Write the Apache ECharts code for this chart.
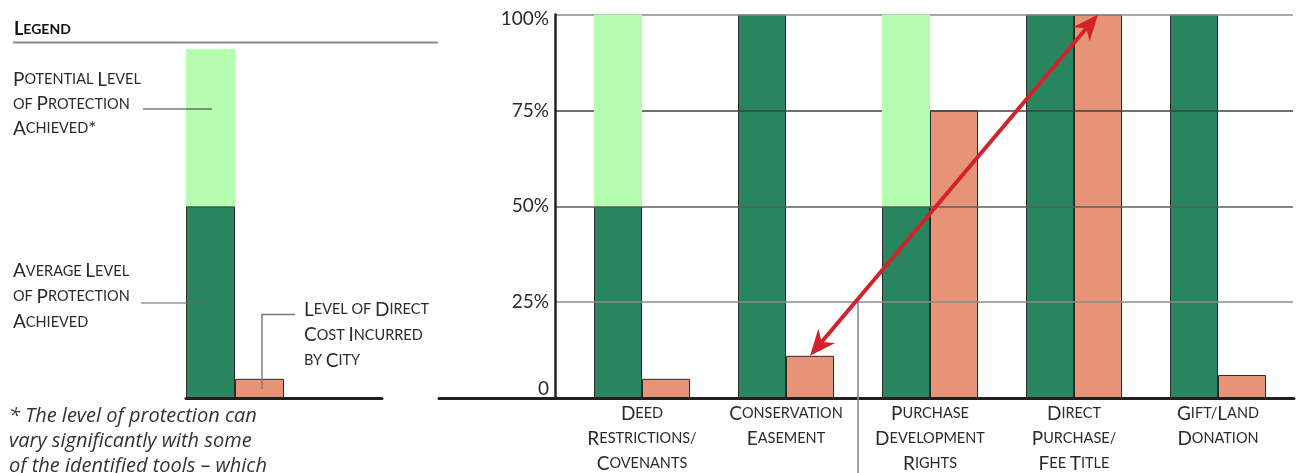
<!DOCTYPE html>
<html>
<head>
<meta charset="utf-8">
<title>Land Protection Tools</title>
<script src="https://cdn.jsdelivr.net/npm/echarts@6/dist/echarts.min.js"></script>
<style>
  html, body { margin: 0; padding: 0; background: #fff; }
  #chart { width: 1300px; height: 473px; }
</style>
</head>
<body>
<div id="chart"></div>
<script>
// Tools compared
const categories = [
  'Deed\nRestrictions/\nCovenants',
  'Conservation\nEasement',
  'Purchase\nDevelopment\nRights',
  'Direct\nPurchase/\nFee Title',
  'Gift/Land\nDonation'
];
// Average level of protection achieved (%)
const averageProtection = [50, 100, 50, 100, 100];
// Potential level of protection achieved (%)
const potentialProtection = [100, 100, 100, 100, 100];
// Level of direct cost incurred by city (%)
const directCost = [5, 11, 75, 100, 6];
// Y-axis tick labels, one per 25%
const yTickLabels = ['0', '25%', '50%', '75%', '100%'];

// Sample bars shown in the legend panel
const legendAverage = [50];
const legendPotential = [91];
const legendCost = [5];

// The arrow links the cost of these two tools
const arrowFrom = 1;
const arrowTo = 3;

const FONT = 'Lato';
const TEXT = '#2b2b2b';
const DARK_GREEN = '#29855f';
const LIGHT_GREEN = '#b4fdb1';
const SALMON = '#e69378';
const EDGE = '#2e2a2a';
const RED = '#d2232a';
const BAR_W = 48;

// Small-caps as rich text: capitals stay large, the rest is set in smaller capitals
function smallCaps(text, big, small) {
  const isBig = /[A-Z*]/;
  return text.split('\n').map(function (line) {
    let out = '';
    let i = 0;
    while (i < line.length) {
      const ch = line[i];
      if (isBig.test(ch)) {
        out += '{' + big + '|' + ch + '}';
        i++;
      } else {
        let j = i;
        while (j < line.length && !isBig.test(line[j])) j++;
        out += '{' + small + '|' + line.slice(i, j).toUpperCase() + '}';
        i = j;
      }
    }
    return out;
  }).join('\n');
}

const capsRich = function (lh) {
  return {
    B: { fontFamily: FONT, fontSize: 19, lineHeight: lh, fill: TEXT, color: TEXT },
    s: { fontFamily: FONT, fontSize: 14.5, lineHeight: lh, fill: TEXT, color: TEXT }
  };
};

const potentialStack = potentialProtection.map(function (v, i) { return v - averageProtection[i]; });
const legendPotentialStack = legendPotential.map(function (v, i) { return v - legendAverage[i]; });

const chart = echarts.init(document.getElementById('chart'), null, { renderer: 'canvas' });

const TOP = 14.5;
const BOTTOM = 75;

const option = {
  backgroundColor: '#ffffff',
  animation: false,
  grid: [
    // 0: value scale, gridlines and y axis
    { left: 555, right: 7, top: TOP, bottom: BOTTOM, outerBoundsMode: 'none', containLabel: false },
    // 1: tool bars
    { left: 570, right: 10, top: TOP, bottom: BOTTOM, outerBoundsMode: 'none', containLabel: false },
    // 2: long baseline under the main chart
    { left: 439, right: 6, top: TOP, bottom: BOTTOM, outerBoundsMode: 'none', containLabel: false },
    // 3: legend sample bars
    { left: 186, width: 196, top: TOP, bottom: BOTTOM, outerBoundsMode: 'none', containLabel: false }
  ],
  xAxis: [
    { gridIndex: 0, type: 'category', data: categories, show: false },
    {
      gridIndex: 1, type: 'category', data: categories,
      axisLine: { show: false }, axisTick: { show: false }, splitLine: { show: false },
      axisLabel: {
        interval: 0, margin: 3,
        formatter: function (v) { return smallCaps(v, 'B', 's'); },
        rich: capsRich(25)
      }
    },
    {
      gridIndex: 2, type: 'category', data: categories, z: 6,
      axisLine: { show: true, lineStyle: { color: '#231f20', width: 3 } },
      axisTick: { show: false }, axisLabel: { show: false }, splitLine: { show: false }
    },
    {
      gridIndex: 3, type: 'category', data: ['sample', 'blank'], z: 6,
      axisLine: { show: true, lineStyle: { color: '#231f20', width: 3 } },
      axisTick: { show: false }, axisLabel: { show: false }, splitLine: { show: false }
    }
  ],
  yAxis: [
    {
      gridIndex: 0, type: 'value', min: 0, max: 100, interval: 25, z: 3,
      axisLine: { show: true, lineStyle: { color: '#231f20', width: 2.5 } },
      axisTick: { show: false },
      splitLine: {
        show: true,
        lineStyle: { color: ['#231f20', '#8c8c8c', '#5e5e5e', '#404040', '#8c8c8c'], width: 1.6 }
      },
      axisLabel: {
        margin: 6,
        formatter: function (v) {
          const label = yTickLabels[Math.round(v / 25)];
          if (v === 0) return '{lo|' + label + '}';
          if (v === 100) return '{hi|' + label + '}';
          return '{n|' + label + '}';
        },
        rich: {
          n: { fontFamily: FONT, fontSize: 19, color: TEXT },
          lo: { fontFamily: FONT, fontSize: 19, color: TEXT, padding: [0, 0, 19, 0] },
          hi: { fontFamily: FONT, fontSize: 19, color: TEXT, padding: [8, 0, 0, 0] }
        }
      }
    },
    { gridIndex: 1, type: 'value', min: 0, max: 100, show: false },
    { gridIndex: 2, type: 'value', min: 0, max: 100, show: false },
    { gridIndex: 3, type: 'value', min: 0, max: 100, show: false }
  ],
  series: [
    {
      name: 'Average Level of Protection Achieved', type: 'bar',
      xAxisIndex: 1, yAxisIndex: 1, stack: 'protection',
      data: averageProtection, barWidth: BAR_W, barGap: '0%', z: 2,
      itemStyle: { color: DARK_GREEN, borderColor: EDGE, borderWidth: 1 }
    },
    {
      name: 'Potential Level of Protection Achieved', type: 'bar',
      xAxisIndex: 1, yAxisIndex: 1, stack: 'protection',
      data: potentialStack, barWidth: BAR_W, barGap: '0%', z: 4,
      itemStyle: { color: LIGHT_GREEN, borderWidth: 0 }
    },
    {
      name: 'Level of Direct Cost Incurred by City', type: 'bar',
      xAxisIndex: 1, yAxisIndex: 1,
      data: directCost, barWidth: BAR_W, barGap: '0%', z: 2,
      itemStyle: { color: SALMON, borderColor: EDGE, borderWidth: 1 }
    },
    {
      name: 'legend average', type: 'bar', xAxisIndex: 3, yAxisIndex: 3, stack: 'legendProtection',
      data: legendAverage, barWidth: 49, barGap: '0%', z: 2,
      itemStyle: { color: DARK_GREEN, borderColor: EDGE, borderWidth: 1 }
    },
    {
      name: 'legend potential', type: 'bar', xAxisIndex: 3, yAxisIndex: 3, stack: 'legendProtection',
      data: legendPotentialStack, barWidth: 49, barGap: '0%', z: 4,
      itemStyle: { color: LIGHT_GREEN, borderWidth: 0 }
    },
    {
      name: 'legend cost', type: 'bar', xAxisIndex: 3, yAxisIndex: 3,
      data: legendCost, barWidth: 49, barGap: '0%', z: 2,
      itemStyle: { color: SALMON, borderColor: EDGE, borderWidth: 1 }
    }
  ],
  graphic: [
    // Legend heading and rule
    {
      type: 'text', left: 14, top: 20, z: 10,
      style: {
        text: smallCaps('Legend', 'B', 's'), fill: '#111111',
        rich: {
          B: { font: 'bold 18px Lato', lineHeight: 20, fill: '#111111' },
          s: { font: 'bold 14px Lato', lineHeight: 20, fill: '#111111' }
        }
      }
    },
    { type: 'line', z: 10, shape: { x1: 13, y1: 42.5, x2: 438, y2: 42.5 }, style: { stroke: '#8a8a8a', lineWidth: 2 } },

    // Legend captions
    {
      type: 'text', left: 13, top: 70, z: 10,
      style: { text: smallCaps('Potential Level\nof Protection\nAchieved*', 'B', 's'), fill: TEXT, rich: capsRich(24.5) }
    },
    { type: 'line', z: 10, shape: { x1: 143, y1: 109, x2: 212, y2: 109 }, style: { stroke: '#333', lineWidth: 1 } },
    {
      type: 'text', left: 13, top: 261.5, z: 10,
      style: { text: smallCaps('Average Level\nof Protection\nAchieved', 'B', 's'), fill: TEXT, rich: capsRich(25.5) }
    },
    { type: 'line', z: 10, shape: { x1: 141, y1: 303, x2: 204, y2: 303 }, style: { stroke: '#666', lineWidth: 1.2 } },
    {
      type: 'text', left: 304, top: 300, z: 10,
      style: { text: smallCaps('Level of Direct\nCost Incurred\nby City', 'B', 's'), fill: TEXT, rich: capsRich(25.5) }
    },
    {
      type: 'polyline', z: 10,
      shape: { points: [[295, 314.5], [262, 314.5], [262, 389]] },
      style: { stroke: '#777', lineWidth: 1.4, fill: null }
    },

    // Footnote
    {
      type: 'text', left: 9, top: 404, z: 10,
      style: {
        text: '* The level of protection can\nvary significantly with some\nof the identified tools \u2013 which',
        font: 'italic 20px "Open Sans"', lineHeight: 25, fill: '#333'
      }
    }
  ]
};

chart.setOption(option);

// Overlays placed from the bar axes: category divider and the cost arrow
(function () {
  const finder = { xAxisIndex: 1, yAxisIndex: 1 };
  const c1 = chart.convertToPixel(finder, [categories[1], 25]);
  const c2 = chart.convertToPixel(finder, [categories[2], 25]);
  const dividerX = (c1[0] + c2[0]) / 2;

  const p1 = chart.convertToPixel(finder, [categories[arrowFrom], directCost[arrowFrom]]);
  const p2 = chart.convertToPixel(finder, [categories[arrowTo], directCost[arrowTo]]);
  p1[0] += BAR_W / 2;
  p2[0] += BAR_W / 2;

  const dx = p2[0] - p1[0], dy = p2[1] - p1[1];
  const len = Math.sqrt(dx * dx + dy * dy);
  const ux = dx / len, uy = dy / len;
  const nx = -uy, ny = ux;
  const L = 26, W = 11, N = 18;

  function head(tip, dirx, diry) {
    const bx = tip[0] + dirx * L, by = tip[1] + diry * L;
    return [
      [tip[0], tip[1]],
      [bx + nx * W, by + ny * W],
      [tip[0] + dirx * N, tip[1] + diry * N],
      [bx - nx * W, by - ny * W]
    ];
  }

  chart.setOption({
    graphic: option.graphic.concat([
      {
        type: 'line', z: 8,
        shape: { x1: dividerX, y1: c1[1], x2: dividerX, y2: 473 },
        style: { stroke: '#8a8a8a', lineWidth: 1.6 }
      },
      {
        type: 'line', z: 20,
        shape: { x1: p1[0] + ux * N, y1: p1[1] + uy * N, x2: p2[0] - ux * N, y2: p2[1] - uy * N },
        style: { stroke: RED, lineWidth: 4 }
      },
      { type: 'polygon', z: 20, shape: { points: head(p1, ux, uy) }, style: { fill: RED } },
      { type: 'polygon', z: 20, shape: { points: head(p2, -ux, -uy) }, style: { fill: RED } }
    ])
  });
})();
</script>
</body>
</html>
